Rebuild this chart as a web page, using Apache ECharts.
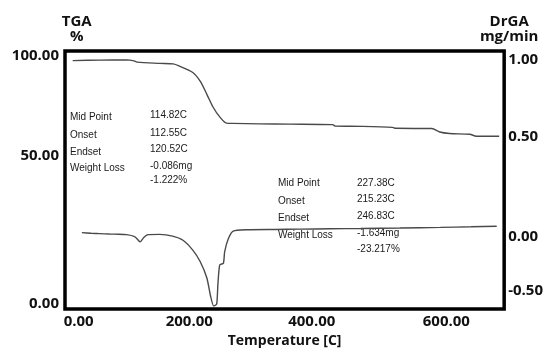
<!DOCTYPE html>
<html><head><meta charset="utf-8">
<script src="https://cdn.jsdelivr.net/npm/echarts@6/dist/echarts.min.js"></script>
<style>html,body{margin:0;padding:0;background:#fff}#c{width:546px;height:353px}</style>
</head><body><div id="c"></div>
<script>
// TGA curve (%)
const tgaTemp = [0, 44, 88, 100, 105, 142, 164, 175, 196, 208, 219, 229, 240, 251, 261, 305, 354, 424, 429, 473, 522, 527, 586, 599, 615, 648, 659, 696];
const tgaPct  = [98.1, 98.3, 98.4, 98.0, 97.5, 97.0, 96.8, 95.8, 93.3, 89.8, 84.5, 79.4, 75.4, 72.9, 72.8, 72.6, 72.5, 72.3, 71.7, 71.6, 71.2, 70.8, 70.7, 69.3, 68.7, 68.4, 67.6, 67.6];
// DrGA curve (mg/min)
const drgaTemp = [15, 30, 44, 60, 75, 88, 101, 106, 110, 116, 123, 142, 163, 180, 196, 208, 219, 225, 230, 235, 237, 240, 246, 248, 254, 262, 284, 330, 371, 420, 470, 534, 600, 650, 692];
const drgaRate = [-0.121, -0.125, -0.127, -0.13, -0.131, -0.134, -0.146, -0.165, -0.181, -0.152, -0.134, -0.132, -0.143, -0.170, -0.234, -0.308, -0.415, -0.532, -0.596, -0.585, -0.455, -0.330, -0.319, -0.245, -0.160, -0.111, -0.102, -0.100, -0.098, -0.096, -0.094, -0.091, -0.087, -0.083, -0.079];
const xTicks = [0, 200, 400, 600];
const tgaTicks = [0, 50, 100];
const drgaTicks = [-0.5, 0, 0.5, 1];
const annLabels = ['Mid Point', 'Onset', 'Endset', 'Weight Loss'];
const ann1Values = ['114.82C', '112.55C', '120.52C', '-0.086mg', '-1.222%'];
const ann2Values = ['227.38C', '215.23C', '246.83C', '-1.634mg', '-23.217%'];

const chart = echarts.init(document.getElementById('c'));
const axFont = {fontFamily: 'Open Sans', fontWeight: 'bold', fontSize: 15, color: '#111'};
const richShift = {
  n: Object.assign({}, axFont),
  up: Object.assign({padding: [0, 0, 48, 0]}, axFont),
  dn: Object.assign({padding: [46, 0, 0, 0]}, axFont),
  r: Object.assign({padding: [0, 0, 0, 12]}, axFont),
  l: Object.assign({padding: [0, 12, 0, 0]}, axFont)
};
// label placement tweaks so text sits where the reference prints it
const leftShift = {'50': 'up'};
const rightShift = {'0': 'dn'};
const xShift = {'0': 'r', '200': 'l', '400': 'l', '600': 'r'};
function fmt(map) {
  return function (v) {
    const key = String(Math.round(v * 100) / 100);
    return '{' + (map[key] || 'n') + '|' + Number(v).toFixed(2) + '}';
  };
}

const annText = [];
const aFont = '10px "Liberation Sans"';
const a1LabelY = [117, 135, 152, 168], a1ValY = [115, 133, 149, 166, 180];
const a2LabelY = [183, 201, 218, 235], a2ValY = [183, 199, 216, 233, 249];
annLabels.forEach((t, i) => {
  annText.push({type: 'text', x: 70, y: a1LabelY[i], style: {text: t, font: aFont, fill: '#1a1a1a', verticalAlign: 'middle'}});
  annText.push({type: 'text', x: 278, y: a2LabelY[i], style: {text: t, font: aFont, fill: '#1a1a1a', verticalAlign: 'middle'}});
});
ann1Values.forEach((t, i) => annText.push({type: 'text', x: 150, y: a1ValY[i], style: {text: t, font: aFont, fill: '#1a1a1a', verticalAlign: 'middle'}}));
ann2Values.forEach((t, i) => annText.push({type: 'text', x: 357, y: a2ValY[i], style: {text: t, font: aFont, fill: '#1a1a1a', verticalAlign: 'middle'}}));

chart.setOption({
  animation: false,
  backgroundColor: '#fff',
  grid: {left: 65, top: 51, right: 41.3, bottom: 39.7, show: true, borderColor: '#000', borderWidth: 3.5, backgroundColor: 'transparent'},
  xAxis: {
    type: 'value', min: -12.55, max: 704.2,
    axisLine: {show: false}, axisTick: {show: false}, splitLine: {show: false},
    axisLabel: {customValues: xTicks, formatter: fmt(xShift), margin: 5, rich: richShift},
    name: 'Temperature [C]', nameLocation: 'middle', nameGap: 23,
    nameTextStyle: {fontFamily: 'Open Sans', fontWeight: 'bold', fontSize: 14, color: '#111'}
  },
  yAxis: [{
    type: 'value', min: -2.10, max: 101.98, position: 'left',
    axisLine: {show: false}, axisTick: {show: false}, splitLine: {show: false},
    axisLabel: {customValues: tgaTicks, formatter: fmt(leftShift), margin: 6, rich: richShift},
    name: 'TGA\n%', nameLocation: 'end', nameGap: 7,
    nameTextStyle: {fontFamily: 'Open Sans', fontWeight: 'bold', fontSize: 15, color: '#111', lineHeight: 15, align: 'center', verticalAlign: 'bottom', padding: [0, 0, 0, 8]}
  }, {
    type: 'value', min: -0.6168, max: 1.0574, position: 'right',
    axisLine: {show: false}, axisTick: {show: false}, splitLine: {show: false},
    axisLabel: {customValues: drgaTicks, formatter: fmt(rightShift), margin: 4, rich: richShift},
    name: 'DrGA\nmg/min', nameLocation: 'end', nameGap: 7,
    nameTextStyle: {fontFamily: 'Open Sans', fontWeight: 'bold', fontSize: 15, color: '#111', lineHeight: 15, align: 'center', verticalAlign: 'bottom', padding: [0, 0, 0, 10]}
  }],
  graphic: annText,
  series: [{
    type: 'line', yAxisIndex: 0, symbol: 'none', smooth: 0.3,
    lineStyle: {color: '#4a4a4a', width: 1.4},
    data: tgaTemp.map((t, i) => [t, tgaPct[i]])
  }, {
    type: 'line', yAxisIndex: 1, symbol: 'none', smooth: 0.2, clip: false,
    lineStyle: {color: '#4a4a4a', width: 1.4},
    data: drgaTemp.map((t, i) => [t, drgaRate[i]])
  }]
});
</script></body></html>
